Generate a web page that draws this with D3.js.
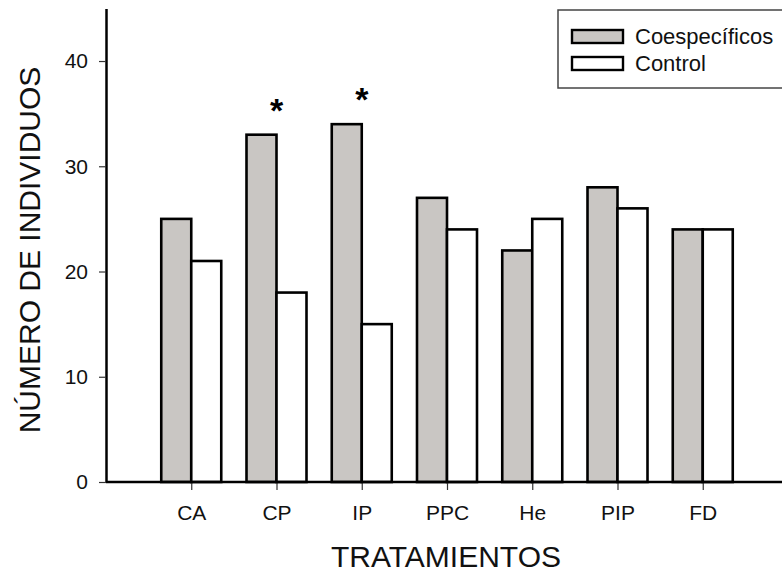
<!DOCTYPE html>
<html>
<head>
<meta charset="utf-8">
<script src="https://cdn.jsdelivr.net/npm/d3@7"></script>
<style>
  body { margin: 0; background: #fff; }
  svg { display: block; font-family: "Liberation Sans", Arial, sans-serif; }
</style>
</head>
<body>
<script>
const categories = ["CA", "CP", "IP", "PPC", "He", "PIP", "FD"],
    coespecificos = [25, 33, 34, 27, 22, 28, 24],
    control = [21, 18, 15, 24, 25, 26, 24],
    significant = ["CP", "IP"],
    yTicks = [0, 10, 20, 30, 40],
    seriesNames = ["Coespecíficos", "Control"],
    seriesColors = ["#c9c6c3", "#ffffff"];

const W = 782, H = 576,
    axisX = 106, axisY = 482,
    barW = 30;

const svg = d3.select("body").append("svg")
    .attr("width", W)
    .attr("height", H);

const y = d3.scaleLinear()
    .domain([0, 45])
    .range([axisY, 8.4]);

const x = d3.scalePoint()
    .domain(categories)
    .range([axisX, 788])
    .padding(1);

// bars
const rows = categories.map((c, i) => ({cat: c, a: coespecificos[i], b: control[i]}));

const groups = svg.append("g").selectAll("g")
    .data(rows)
    .join("g");

groups.append("rect")
    .attr("x", d => x(d.cat) - barW)
    .attr("y", d => y(d.a))
    .attr("width", barW)
    .attr("height", d => y(0) - y(d.a))
    .attr("fill", seriesColors[0])
    .attr("stroke", "#000")
    .attr("stroke-width", 2.6);

groups.append("rect")
    .attr("x", d => x(d.cat))
    .attr("y", d => y(d.b))
    .attr("width", barW)
    .attr("height", d => y(0) - y(d.b))
    .attr("fill", seriesColors[1])
    .attr("stroke", "#000")
    .attr("stroke-width", 2.6);

// asterisks
svg.append("g").selectAll("text")
    .data(rows.filter(d => significant.includes(d.cat)))
    .join("text")
    .attr("x", d => x(d.cat))
    .attr("y", d => y(d.a) - 13)
    .attr("text-anchor", "middle")
    .attr("font-size", 34)
    .attr("font-weight", "bold")
    .text("*");

// x axis
const xAxis = svg.append("g")
    .attr("transform", "translate(0," + axisY + ")")
    .call(d3.axisBottom(x).tickSize(8).tickSizeOuter(0));
xAxis.select(".domain").remove();
xAxis.append("line")
    .attr("x1", axisX).attr("x2", W)
    .attr("stroke", "#000").attr("stroke-width", 2.5);
xAxis.selectAll(".tick line").attr("stroke", "#333").attr("stroke-width", 1.2);
xAxis.selectAll(".tick text")
    .attr("y", 38)
    .attr("dy", 0)
    .attr("font-size", 21)
    .attr("fill", "#111")
    .attr("font-family", "Liberation Sans, Arial, sans-serif");

// y axis
const yAxis = svg.append("g")
    .attr("transform", "translate(" + axisX + ",0)")
    .call(d3.axisLeft(y).tickValues(yTicks).tickSize(7).tickSizeOuter(0));
yAxis.select(".domain").attr("stroke-width", 2.5);
yAxis.selectAll(".tick line").attr("stroke", "#333").attr("stroke-width", 1.2);
yAxis.selectAll(".tick text")
    .attr("x", -18)
    .attr("font-size", 21)
    .attr("fill", "#111")
    .attr("font-family", "Liberation Sans, Arial, sans-serif");

// axis titles
svg.append("text")
    .attr("transform", "translate(40,250) rotate(-90)")
    .attr("text-anchor", "middle")
    .attr("font-size", 30)
    .attr("fill", "#111")
    .text("NÚMERO DE INDIVIDUOS");

svg.append("text")
    .attr("x", 446)
    .attr("y", 567)
    .attr("text-anchor", "middle")
    .attr("font-size", 30)
    .attr("fill", "#111")
    .text("TRATAMIENTOS");

// legend
const legend = svg.append("g");
legend.append("rect")
    .attr("x", 558).attr("y", 10)
    .attr("width", 240).attr("height", 78)
    .attr("fill", "#fff")
    .attr("stroke", "#444")
    .attr("stroke-width", 1.5);

const items = legend.selectAll("g")
    .data(seriesNames)
    .join("g")
    .attr("transform", (d, i) => "translate(572," + (30 + i * 27) + ")");

items.append("rect")
    .attr("width", 51).attr("height", 13)
    .attr("fill", (d, i) => seriesColors[i])
    .attr("stroke", "#000")
    .attr("stroke-width", 2.4);

items.append("text")
    .attr("x", 63)
    .attr("y", 14)
    .attr("font-size", 22)
    .attr("fill", "#111")
    .text(d => d);
</script>
</body>
</html>
